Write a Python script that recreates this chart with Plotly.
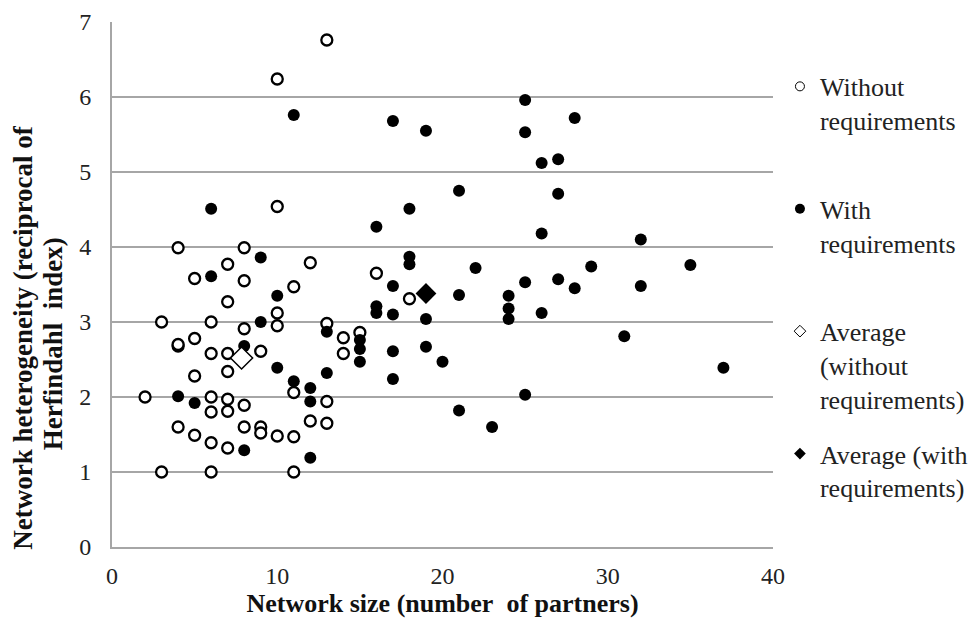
import plotly.graph_objects as go

# Without requirements (open circles)
without_x = [13, 10, 10, 4, 8, 7, 12, 5, 8, 11, 7, 3, 6, 10, 10, 8, 13, 14, 14, 15,
             4, 4, 5, 6, 7, 9, 16, 18, 5, 7, 11, 2, 6, 7, 8, 13, 6, 7, 4, 5,
             6, 7, 8, 9, 9, 10, 11, 12, 13, 3, 6, 11]
without_y = [6.76, 6.24, 4.54, 3.99, 3.99, 3.77, 3.79, 3.58, 3.55, 3.47, 3.27, 3.00, 3.00, 3.12, 2.95, 2.91, 2.98, 2.79, 2.58, 2.86,
             2.68, 2.70, 2.78, 2.58, 2.58, 2.61, 3.65, 3.31, 2.28, 2.34, 2.06, 2.00, 2.00, 1.97, 1.89, 1.94, 1.80, 1.81, 1.60, 1.49,
             1.39, 1.32, 1.60, 1.60, 1.52, 1.48, 1.47, 1.68, 1.65, 1.00, 1.00, 1.00]

# With requirements (filled circles)
with_x = [11, 6, 9, 6, 10, 9, 8, 13, 10, 11, 13, 12, 12, 4, 5, 8, 12,
          25, 17, 19, 25, 28, 26, 27, 21, 27, 18, 16, 26, 18, 18, 22, 25, 27, 17,
          19, 21, 24, 24, 24, 28, 26, 16, 16, 17, 19, 19, 20, 17, 17, 15, 15, 15,
          21, 23, 25, 32, 29, 35, 32, 31, 37]
with_y = [5.76, 4.51, 3.86, 3.61, 3.35, 3.00, 2.68, 2.87, 2.39, 2.21, 2.32, 2.12, 1.94, 2.01, 1.92, 1.29, 1.19,
          5.96, 5.68, 5.55, 5.53, 5.72, 5.12, 5.17, 4.75, 4.71, 4.51, 4.27, 4.18, 3.87, 3.77, 3.72, 3.53, 3.57, 3.48,
          3.38, 3.36, 3.35, 3.18, 3.04, 3.45, 3.12, 3.21, 3.12, 3.10, 3.04, 2.67, 2.47, 2.61, 2.24, 2.76, 2.64, 2.47,
          1.82, 1.60, 2.03, 4.10, 3.74, 3.76, 3.48, 2.81, 2.39]

# Averages
avg_without_x = [7.84]
avg_without_y = [2.52]
avg_with_x = [19.0]
avg_with_y = [3.38]

legend_names = [
    "Without<br>requirements<br> ",
    "With<br>requirements<br> ",
    "Average<br>(without<br>requirements)",
    "Average (with<br>requirements)",
]

x_title = "Network size (number\u00a0 of partners)"
y_title_lines = ["Network heterogeneity (reciprocal of", "Herfindahl\u00a0 index)"]

FONT = "Liberation Serif, Times New Roman, serif"

fig = go.Figure()

fig.add_trace(go.Scatter(x=without_x, y=without_y, mode="markers", showlegend=False,
                         marker=dict(symbol="circle", size=11, color="white",
                                     line=dict(color="black", width=2.3))))
fig.add_trace(go.Scatter(x=with_x, y=with_y, mode="markers", showlegend=False,
                         marker=dict(symbol="circle", size=12, color="black",
                                     line=dict(color="black", width=0))))
fig.add_trace(go.Scatter(x=avg_without_x, y=avg_without_y, mode="markers", showlegend=False,
                         marker=dict(symbol="diamond", size=17, color="white",
                                     line=dict(color="black", width=1.5))))
fig.add_trace(go.Scatter(x=avg_with_x, y=avg_with_y, mode="markers", showlegend=False,
                         marker=dict(symbol="diamond", size=16, color="black",
                                     line=dict(color="black", width=0))))

# legend entries (small symbols like the reference)
leg_markers = [
    dict(symbol="circle", size=9, color="white", line=dict(color="black", width=1)),
    dict(symbol="circle", size=10, color="black", line=dict(color="black", width=0)),
    dict(symbol="diamond", size=9, color="white", line=dict(color="black", width=1)),
    dict(symbol="diamond", size=9, color="black", line=dict(color="black", width=0)),
]
for i, (name, mk) in enumerate(zip(legend_names, leg_markers)):
    fig.add_trace(go.Scatter(x=[None], y=[None], mode="markers", name=name, marker=mk,
                             legendgroup=f"g{i}"))

# y-axis title drawn as two rotated text lines (centred like the reference)
for line, xpos, ypos in zip(y_title_lines, [-0.135, -0.09], [0.40, 0.387]):
    fig.add_annotation(text=line, xref="paper", yref="paper", x=xpos, y=ypos,
                       xanchor="center", yanchor="middle", textangle=-90, showarrow=False,
                       font=dict(family=FONT, size=27, color="#111", weight="bold"))

fig.update_layout(
    width=977, height=630,
    margin=dict(l=104, r=206, t=14, b=91),
    paper_bgcolor="white", plot_bgcolor="white",
    font=dict(family=FONT, size=24, color="black"),
    legend=dict(x=1.0105, xanchor="left", y=0.922, yanchor="top", valign="top",
                font=dict(family=FONT, size=26, color="#222"),
                bgcolor="rgba(0,0,0,0)", tracegroupgap=18),
    xaxis=dict(range=[0, 40], tickvals=[0, 10, 20, 30, 40], showgrid=False, zeroline=False,
               showline=True, linecolor="#a6a6a6", linewidth=2, ticks="", ticklen=0,
               automargin=False, ticklabelstandoff=6,
               tickfont=dict(family=FONT, size=24, color="#222"),
               title=dict(text=x_title, standoff=2,
                          font=dict(family=FONT, size=26, color="#111", weight="bold"))),
    yaxis=dict(range=[0, 7], tickvals=[0, 1, 2, 3, 4, 5, 6, 7], showgrid=True,
               gridcolor="#a6a6a6", gridwidth=1.5, zeroline=False,
               showline=True, linecolor="#a6a6a6", linewidth=2, ticks="",
               automargin=False, ticklabelstandoff=14,
               tickfont=dict(family=FONT, size=24, color="#222")),
)

fig.write_html("out.html")
